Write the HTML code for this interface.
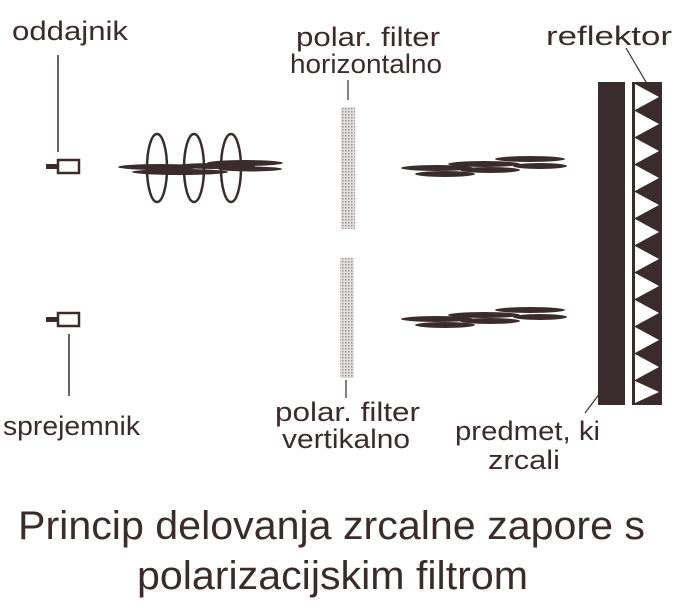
<!DOCTYPE html>
<html><head><meta charset="utf-8"><style>
html,body{margin:0;padding:0;background:#fff;}
svg{display:block;}
text{font-family:"Liberation Sans",sans-serif;fill:#3a2c2c;}
</style></head><body>
<svg width="678" height="608" viewBox="0 0 678 608">
<defs>
<pattern id="dots" width="3" height="3" patternUnits="userSpaceOnUse">
<rect width="3" height="3" fill="#e4e0e0"/><rect width="1.5" height="1.5" fill="#9a9494"/>
</pattern>
</defs>
<g fill="#3a2c2c" stroke="#3a2c2c">
<g stroke="none" font-size="27">
<text x="12" y="40" textLength="116" lengthAdjust="spacingAndGlyphs">oddajnik</text>
<text x="546" y="45" textLength="126" lengthAdjust="spacingAndGlyphs">reflektor</text>
<text x="296" y="46" textLength="144" lengthAdjust="spacingAndGlyphs">polar. filter</text>
<text x="290" y="73" textLength="152" lengthAdjust="spacingAndGlyphs">horizontalno</text>
<text x="3" y="435" textLength="137" lengthAdjust="spacingAndGlyphs">sprejemnik</text>
<text x="275" y="421" textLength="145" lengthAdjust="spacingAndGlyphs">polar. filter</text>
<text x="282" y="448" textLength="128" lengthAdjust="spacingAndGlyphs">vertikalno</text>
<text x="455" y="440" textLength="145" lengthAdjust="spacingAndGlyphs">predmet, ki</text>
<text x="488" y="469" textLength="72" lengthAdjust="spacingAndGlyphs">zrcali</text>
<text x="18" y="539" font-size="40" textLength="627" lengthAdjust="spacingAndGlyphs">Princip delovanja zrcalne zapore s</text>
<text x="137" y="589" font-size="40" textLength="391" lengthAdjust="spacingAndGlyphs">polarizacijskim filtrom</text>
</g>

<line x1="58" y1="55" x2="58" y2="152" stroke-width="1.5"/>
<line x1="69" y1="334" x2="69" y2="396" stroke-width="1.5"/>
<line x1="348" y1="80" x2="348" y2="100" stroke-width="1.2"/>
<line x1="346" y1="380" x2="346" y2="398" stroke-width="1.2"/>
<line x1="626" y1="48" x2="646" y2="82" stroke-width="1.2"/>
<line x1="585" y1="413" x2="600" y2="393" stroke-width="1.2"/>

<rect x="46" y="164" width="12" height="5" stroke="none"/>
<rect x="58" y="160" width="21" height="13" fill="#fff" stroke-width="2.5"/>
<rect x="46" y="317" width="12" height="5" stroke="none"/>
<rect x="58" y="313" width="21" height="13" fill="#fff" stroke-width="2.5"/>

<rect x="341" y="107" width="14" height="122" fill="url(#dots)" stroke="none"/>
<rect x="340" y="258" width="14" height="120" fill="url(#dots)" stroke="none"/>

<g stroke="none">
<ellipse cx="160" cy="167" rx="42" ry="3"/>
<ellipse cx="180" cy="172" rx="48" ry="3"/>
<ellipse cx="215" cy="166" rx="40" ry="3"/>
<ellipse cx="245" cy="163" rx="38" ry="3"/>
<ellipse cx="250" cy="169" rx="32" ry="2.5"/>
</g>
<g fill="none" stroke-width="2.5">
<ellipse cx="157" cy="168" rx="10" ry="34"/>
<ellipse cx="194" cy="168" rx="10" ry="34"/>
<ellipse cx="231" cy="168" rx="10" ry="34"/>
</g>

<g stroke="none">
<ellipse cx="437" cy="168" rx="36" ry="3"/>
<ellipse cx="445" cy="174" rx="30" ry="3"/>
<ellipse cx="484" cy="164" rx="36" ry="3"/>
<ellipse cx="490" cy="170" rx="30" ry="3"/>
<ellipse cx="530" cy="159" rx="35" ry="3"/>
<ellipse cx="540" cy="166" rx="27" ry="3"/>
</g>
<g stroke="none" transform="translate(0,151)">
<ellipse cx="437" cy="168" rx="36" ry="3"/>
<ellipse cx="445" cy="174" rx="30" ry="3"/>
<ellipse cx="484" cy="164" rx="36" ry="3"/>
<ellipse cx="490" cy="170" rx="30" ry="3"/>
<ellipse cx="530" cy="159" rx="35" ry="3"/>
<ellipse cx="540" cy="166" rx="27" ry="3"/>
</g>

<rect x="598" y="82" width="27" height="323" stroke="none"/>
<rect x="632" y="82" width="30" height="323" fill="#3a2c2c" stroke="none"/>
<g fill="#fff" stroke="none">
<polygon points="635,84 659,97 635,110"/>
<polygon points="635,111 659,124 635,137"/>
<polygon points="635,138 659,151 635,164"/>
<polygon points="635,165 659,178 635,191"/>
<polygon points="635,192 659,205 635,218"/>
<polygon points="635,219 659,232 635,245"/>
<polygon points="635,246 659,259 635,272"/>
<polygon points="635,273 659,286 635,299"/>
<polygon points="635,300 659,313 635,326"/>
<polygon points="635,327 659,340 635,353"/>
<polygon points="635,354 659,367 635,380"/>
<polygon points="635,381 659,392 635,403"/>
</g>
</g>
</svg>
</body></html>
